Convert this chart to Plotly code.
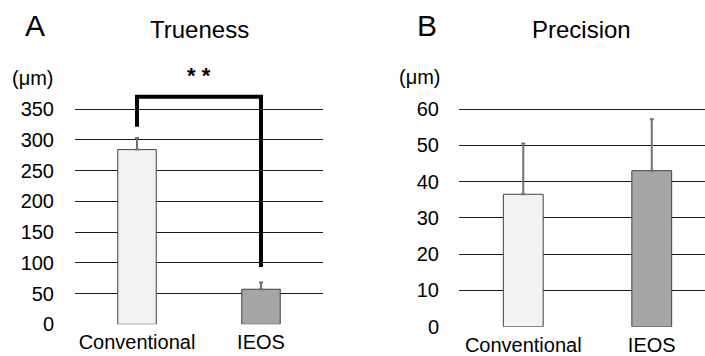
import plotly.graph_objects as go

categories = ["Conventional", "IEOS"]
trueness_mean = [284, 57]
trueness_err = [19, 11]
precision_mean = [36.5, 43]
precision_err = [14, 14.2]
trueness_ticks = [0, 50, 100, 150, 200, 250, 300, 350]
precision_ticks = [0, 10, 20, 30, 40, 50, 60]
bar_colors = ["#f2f2f2", "#a6a6a6"]
bracket_y = [321, 370, 370, 93]

W, H = 705, 356
FONT = "Liberation Sans, Arial, sans-serif"

def px_x(p):
    return p / W

def px_y(p):
    return (H - p) / H

xpos = [0, 1]

fig = go.Figure()

fig.add_trace(go.Bar(
    x=xpos, y=trueness_mean, xaxis="x", yaxis="y",
    marker=dict(color=bar_colors, line=dict(color="#404040", width=1)),
    error_y=dict(type="data", array=trueness_err, symmetric=False, arrayminus=[0, 0],
                 color="#707070", thickness=2, width=2),
    width=0.31, showlegend=False, hoverinfo="skip",
))
fig.add_trace(go.Scatter(
    x=[xpos[0], xpos[0], xpos[1], xpos[1]], y=bracket_y, xaxis="x", yaxis="y",
    mode="lines", line=dict(color="black", width=4), showlegend=False, hoverinfo="skip",
))

fig.add_trace(go.Bar(
    x=xpos, y=precision_mean, xaxis="x2", yaxis="y2",
    marker=dict(color=bar_colors, line=dict(color="#404040", width=1)),
    error_y=dict(type="data", array=precision_err, symmetric=False, arrayminus=[0, 0],
                 color="#707070", thickness=2, width=2),
    width=0.31, showlegend=False, hoverinfo="skip",
))

# Panel A geometry (reference pixel coordinates)
a_zero, a_top_px = 324.3, 60
a_scale = (324.3 - 109) / 350
a_max = (a_zero - a_top_px) / a_scale
# Panel B geometry
b_zero, b_top_px = 326.7, 100
b_scale = (326.7 - 109) / 60
b_max = (b_zero - b_top_px) / b_scale

b_left = 459
b_cat = 128.5
b_right_val = 1.5 - (b_left + 2 * b_cat - W) / b_cat

tickfont = dict(family=FONT, size=20, color="black")

common = dict(automargin=False, zeroline=False, showline=False, ticks="", fixedrange=True,
              tickfont=tickfont)

fig.update_layout(
    width=W, height=H,
    margin=dict(l=0, r=0, t=0, b=0),
    paper_bgcolor="white", plot_bgcolor="white",
    font=dict(family=FONT, color="black"),
    xaxis=dict(domain=[px_x(75), px_x(323)], range=[-0.5, 1.5], tickvals=xpos,
               ticktext=categories, showgrid=False, ticklabelstandoff=4, **common),
    yaxis=dict(domain=[px_y(a_zero), px_y(a_top_px)], range=[0, a_max],
               tickvals=trueness_ticks, showgrid=True, gridcolor="#1a1a1a", gridwidth=1,
               ticklabelstandoff=20, **common),
    xaxis2=dict(domain=[px_x(b_left), 1.0], range=[-0.5, b_right_val], tickvals=xpos,
                ticktext=categories, showgrid=False, ticklabelstandoff=4, anchor="y2", **common),
    yaxis2=dict(domain=[px_y(b_zero), px_y(b_top_px)], range=[0, b_max],
                tickvals=precision_ticks, showgrid=True, gridcolor="#1a1a1a", gridwidth=1,
                ticklabelstandoff=19, anchor="x2", **common),
    bargap=0.69,
    hovermode=False,
)

ann = []
def txt(x, y, s, size, xanchor="center"):
    ann.append(dict(x=px_x(x), y=px_y(y), xref="paper", yref="paper", text=s,
                    showarrow=False, xanchor=xanchor, yanchor="middle",
                    font=dict(family=FONT, size=size, color="black")))

txt(35, 26, "A", 30)
txt(199, 30, "Trueness", 24)
txt(427, 26, "B", 30)
txt(581, 30, "Precision", 24)
txt(56, 78, "(μm)", 20, xanchor="right")
txt(443, 77, "(μm)", 20, xanchor="right")
ann.append(dict(x=0.5, y=405, xref="x", yref="y", text="<b>* *</b>", showarrow=False,
                xanchor="center", yanchor="middle",
                font=dict(family=FONT, size=22, color="black")))
fig.update_layout(annotations=ann)

fig.write_html(
    "out.html",
    config={"displayModeBar": False, "staticPlot": True},
    post_script="document.body.style.margin='0';document.body.style.overflow='hidden';",
)
